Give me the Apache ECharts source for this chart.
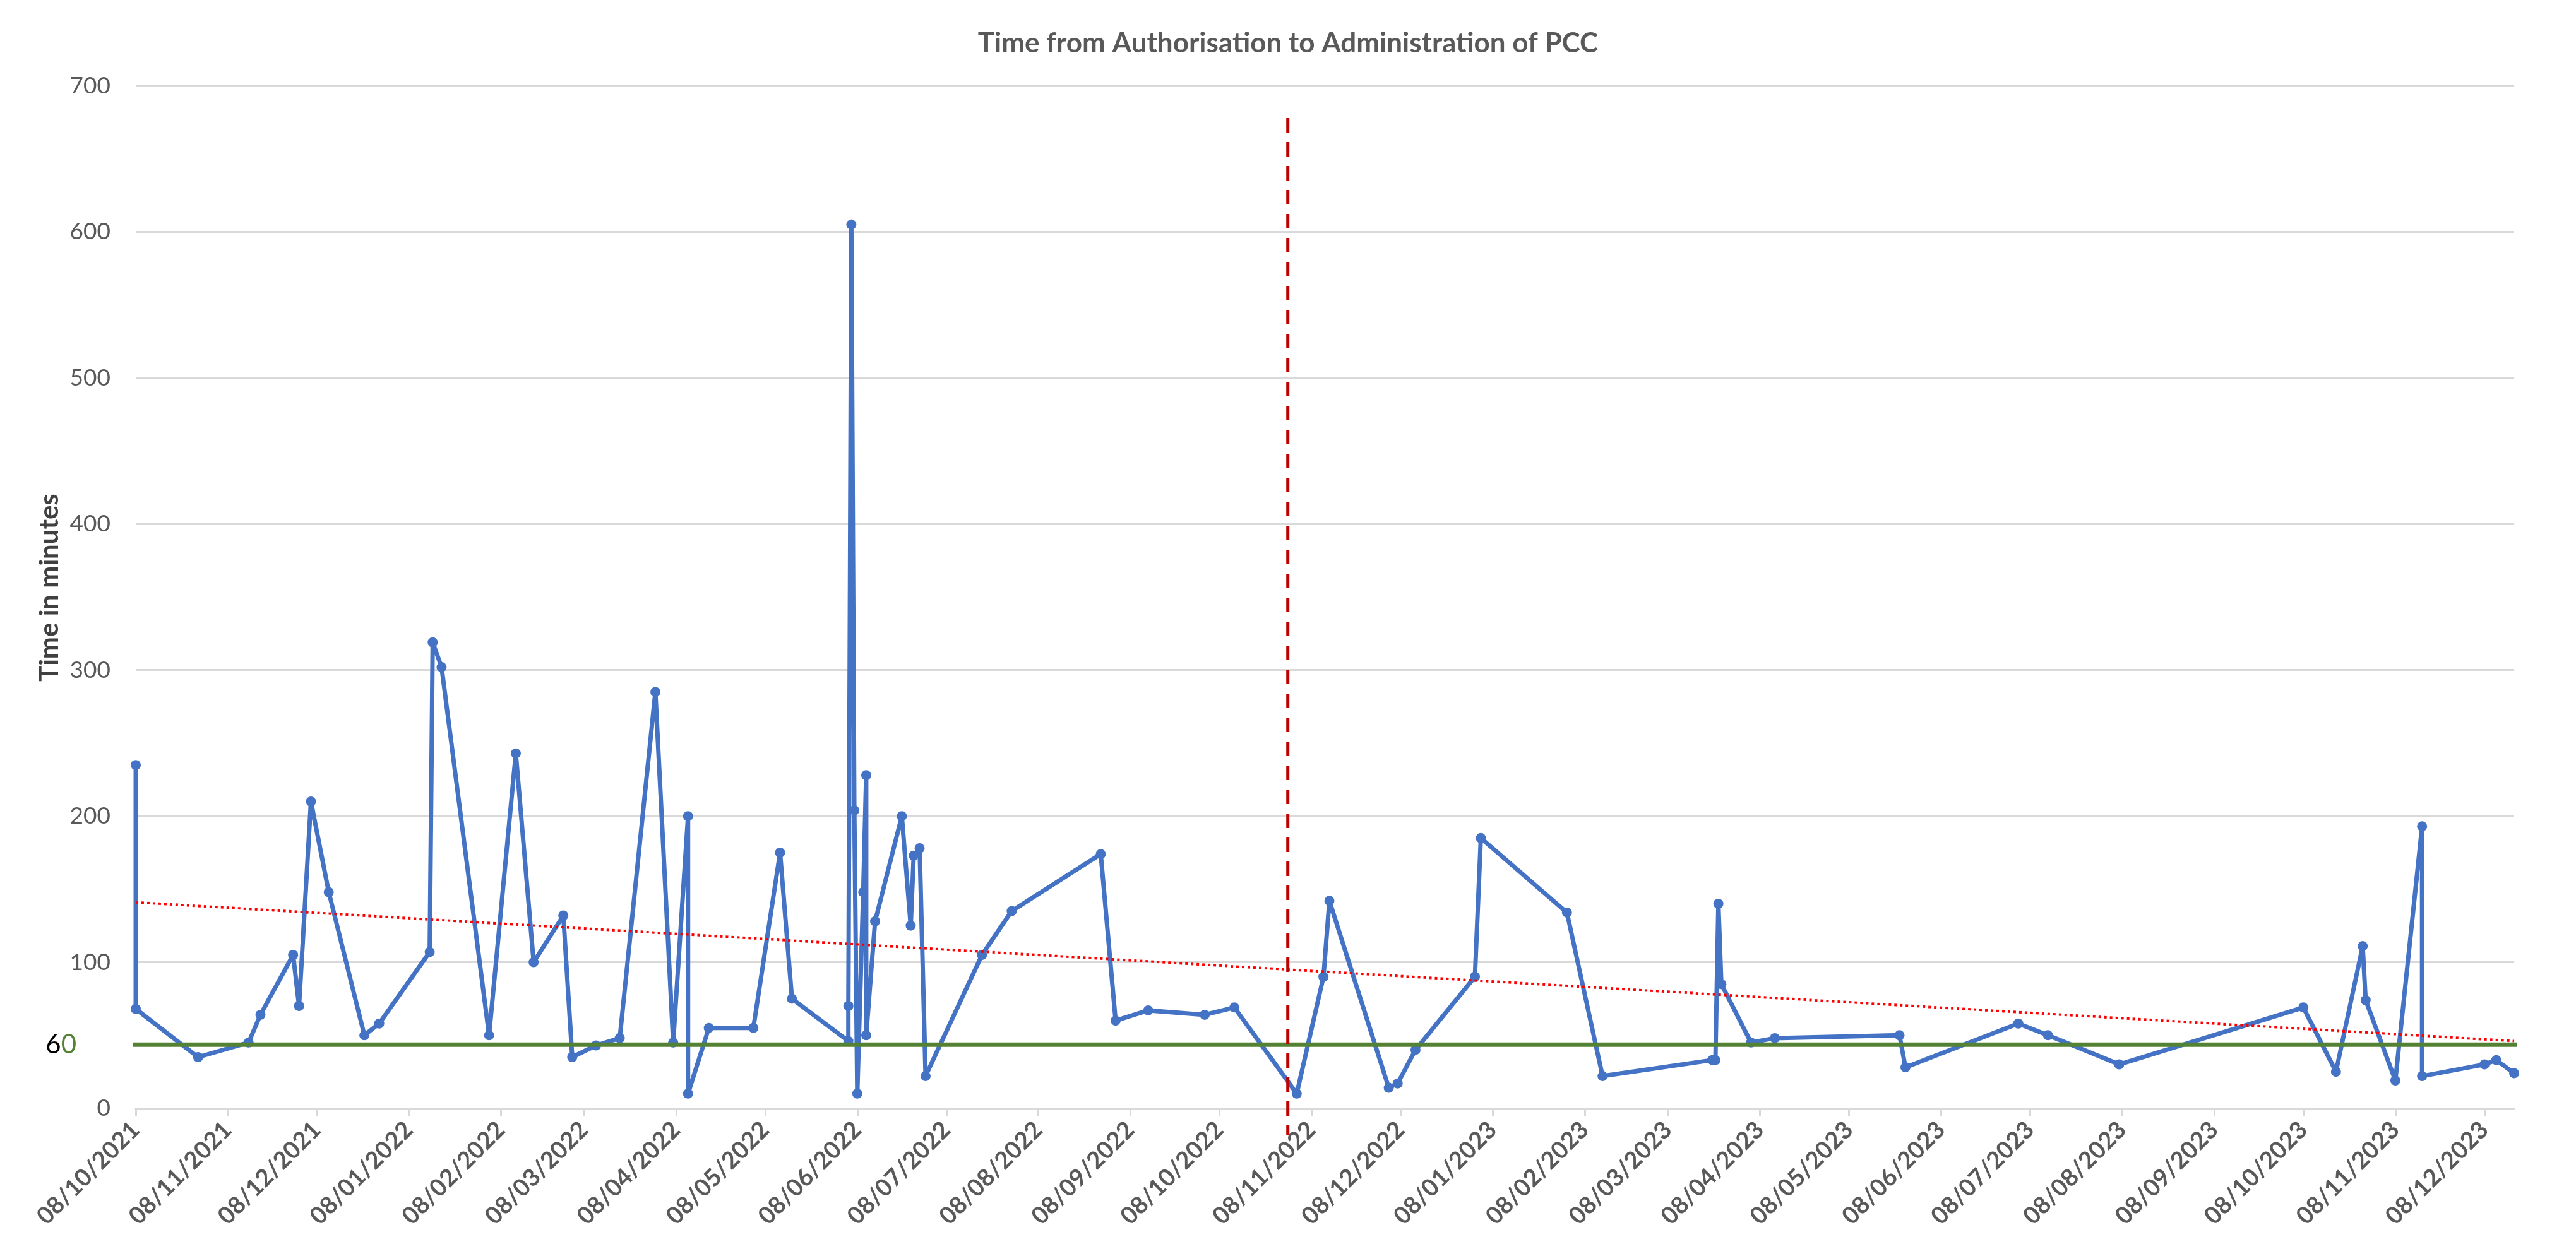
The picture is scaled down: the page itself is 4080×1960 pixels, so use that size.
<!DOCTYPE html>
<html><head><meta charset="utf-8">
<script src="https://cdn.jsdelivr.net/npm/echarts@6/dist/echarts.min.js"></script>
<style>html,body{margin:0;padding:0;background:#fff}#chart{width:4080px;height:1960px}</style>
</head><body><div id="chart"></div>
<script>
// ---- data ----
const dates = [
'2021-10-08','2021-10-08','2021-10-29','2021-11-15','2021-11-19','2021-11-30','2021-12-02','2021-12-06','2021-12-12','2021-12-24','2021-12-29',
'2022-01-15','2022-01-16','2022-01-19','2022-02-04','2022-02-13','2022-02-19','2022-03-01','2022-03-04','2022-03-12','2022-03-20',
'2022-04-01','2022-04-07','2022-04-12','2022-04-12','2022-04-19','2022-05-04','2022-05-13','2022-05-17',
'2022-06-05','2022-06-05','2022-06-06','2022-06-07','2022-06-08','2022-06-10','2022-06-11','2022-06-11','2022-06-14','2022-06-23','2022-06-26','2022-06-27','2022-06-29','2022-07-01',
'2022-07-20','2022-07-30','2022-08-29','2022-09-03','2022-09-14','2022-10-03','2022-10-13','2022-11-03',
'2022-11-12','2022-11-14','2022-12-04','2022-12-07','2022-12-13','2023-01-02','2023-01-04','2023-02-02','2023-02-14',
'2023-03-23','2023-03-24','2023-03-25','2023-03-26','2023-04-05','2023-04-13','2023-05-25','2023-05-27',
'2023-07-04','2023-07-14','2023-08-07','2023-10-08','2023-10-19','2023-10-28','2023-10-29','2023-11-08','2023-11-17','2023-11-17','2023-12-08','2023-12-12','2023-12-18'
];
const minutes = [
235,68,35,45,64,105,70,210,148,50,58,
107,319,302,50,243,100,132,35,43,48,
285,45,200,10,55,55,175,75,
46,70,605,204,10,148,228,50,128,200,125,173,178,22,
105,135,174,60,67,64,69,10,
90,142,14,17,40,90,185,134,22,
33,33,140,85,45,48,50,28,
58,50,30,69,25,111,74,19,193,22,30,33,24
];
const tickLabels = [
'08/10/2021','08/11/2021','08/12/2021','08/01/2022','08/02/2022','08/03/2022','08/04/2022','08/05/2022','08/06/2022',
'08/07/2022','08/08/2022','08/09/2022','08/10/2022','08/11/2022','08/12/2022','08/01/2023','08/02/2023','08/03/2023',
'08/04/2023','08/05/2023','08/06/2023','08/07/2023','08/08/2023','08/09/2023','08/10/2023','08/11/2023','08/12/2023'
];
const xRange = ['2021-10-08','2023-12-18'];
const trendDates = ['2021-10-08','2023-12-18'];
const trendValues = [141, 46];
const thresholdDates = ['2021-09-21','2024-01-01'];
const thresholdValues = [43.5, 43.5];
const thresholdText = ['6','0'];
const dividerDates = ['2022-10-31','2022-10-31'];
const dividerValues = [678, -18.6];
const yMin = 0, yMax = 700, yStep = 100;

// ---- helpers ----
function isoTs(s){ const p = s.split('-').map(Number); return Date.UTC(p[0], p[1]-1, p[2]); }
function dmyTs(s){ const p = s.split('/').map(Number); return Date.UTC(p[2], p[1]-1, p[0]); }
const tickTs = tickLabels.map(dmyTs);
const labelByTs = {}; tickLabels.forEach((l,i)=>{ labelByTs[tickTs[i]] = l; });
const pair = (ds, vs) => ds.map((d,i)=>[isoTs(d), vs[i]]);

const FONT = 'Lato, "Open Sans", sans-serif';
const chart = echarts.init(document.getElementById('chart'));
chart.setOption({
  backgroundColor: '#ffffff',
  animation: false,
  title: {
    text: 'Time from Authorisation to Administration of PCC',
    left: 'center', top: 42,
    textStyle: { fontFamily: FONT, fontSize: 44, fontWeight: 'bold', color: '#595959' }
  },
  grid: { left: 215, right: 98, top: 136, bottom: 204 },
  xAxis: {
    type: 'value',
    min: isoTs(xRange[0]), max: isoTs(xRange[1]),
    axisLine: { show: true, lineStyle: { color: '#d9d9d9', width: 3 } },
    axisTick: { show: true, length: 13, lineStyle: { color: '#d9d9d9', width: 3 }, customValues: tickTs },
    axisLabel: {
      customValues: tickTs, rotate: 45, margin: 28,
      fontFamily: FONT, fontSize: 38, fontWeight: 'bold', color: '#595959',
      formatter: v => labelByTs[v] || ''
    },
    splitLine: { show: false }
  },
  yAxis: {
    type: 'value', min: yMin, max: yMax, interval: yStep,
    name: 'Time in minutes', nameLocation: 'middle', nameGap: 108,
    nameTextStyle: { fontFamily: FONT, fontSize: 42, fontWeight: 'bold', color: '#404040', padding: [0, 0, 0, 30] },
    axisLine: { show: false }, axisTick: { show: false },
    axisLabel: { fontFamily: FONT, fontSize: 37, color: '#595959', margin: 40 },
    splitLine: { lineStyle: { color: '#d9d9d9', width: 3 } }
  },
  series: [
    {
      name: 'Minutes', type: 'line', z: 2,
      data: pair(dates, minutes),
      symbol: 'circle', symbolSize: 16,
      itemStyle: { color: '#4472C4' },
      lineStyle: { color: '#4472C4', width: 7 }
    },
    {
      name: 'Trend', type: 'line', z: 3, silent: true,
      data: pair(trendDates, trendValues), symbol: 'none',
      lineStyle: { color: '#FF0000', width: 4, type: [4, 5] }
    },
    {
      name: 'Threshold', type: 'line', z: 4, silent: true, clip: false,
      data: pair(thresholdDates, thresholdValues).map((d,i)=> i === 0 ? {
        value: d,
        label: { show: true, position: 'left', distance: 14,
          formatter: '{a|' + thresholdText[0] + '}{b|' + thresholdText[1] + '}',
          rich: { a: { fontFamily: FONT, fontSize: 42, color: '#000000' },
                  b: { fontFamily: FONT, fontSize: 42, color: '#548235' } } }
      } : d),
      symbol: 'circle', symbolSize: 0.1, showSymbol: true,
      itemStyle: { color: '#548235' },
      lineStyle: { color: '#548235', width: 7 }
    },
    {
      name: 'Divider', type: 'line', z: 5, silent: true, clip: false,
      data: pair(dividerDates, dividerValues), symbol: 'none',
      lineStyle: { color: '#C00000', width: 5, type: [23, 15] }
    }
  ]
});
</script></body></html>
